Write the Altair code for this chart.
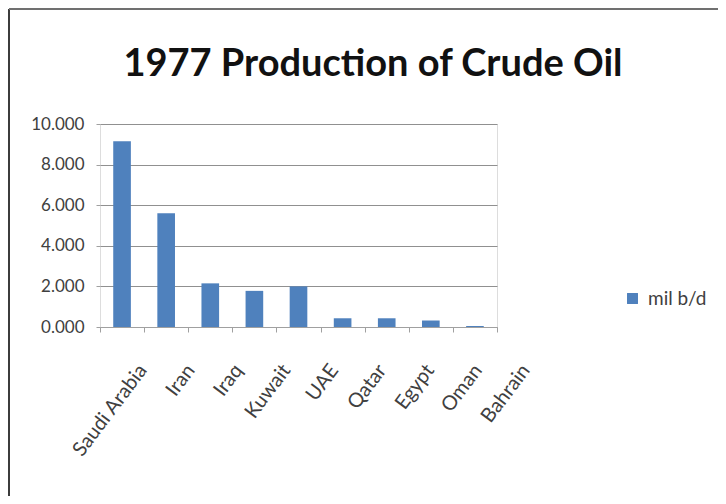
import altair as alt
import pandas as pd

countries = ["Saudi Arabia", "Iran", "Iraq", "Kuwait", "UAE", "Qatar", "Egypt", "Oman", "Bahrain"]
production = [9.15, 5.60, 2.15, 1.78, 2.00, 0.43, 0.43, 0.32, 0.05]
series_name = "mil b/d"
title_text = "1977 Production of Crude Oil"
y_ticks = [0, 2, 4, 6, 8, 10]

df = pd.DataFrame({"country": countries, "value": production, "series": [series_name] * len(countries)})
one = pd.DataFrame({"t": [title_text]})

FONT = "Lato"
W, H = 397, 203
PL, PT = 92, 116

bars = alt.Chart(df).mark_bar(width=alt.RelativeBandSize(0.4), color="#4F81BD").encode(
    x=alt.X("country:N", sort=countries, title=None,
            scale=alt.Scale(paddingInner=0, paddingOuter=0),
            axis=alt.Axis(labels=False, tickBand="extent",
                          tickSize=5, tickColor="#a0a0a0", domainColor="#a0a0a0",
                          grid=False)),
    y=alt.Y("value:Q", title=None,
            scale=alt.Scale(domain=[0, 10], nice=False),
            axis=alt.Axis(values=y_ticks, format=".3f", domain=False,
                          tickSize=4, tickColor="#a0a0a0", gridColor="#909090",
                          labelFont=FONT, labelFontSize=17, labelColor="#404040",
                          labelPadding=12)),
    fill=alt.Fill("series:N", scale=alt.Scale(range=["#4F81BD"]),
                  legend=alt.Legend(title=None, orient="none", legendX=523, legendY=165,
                                    symbolType="square", symbolSize=120, symbolStrokeWidth=0,
                                    labelFont=FONT, labelFontSize=19, labelColor="#404040",
                                    labelOffset=6)),
)

# rotated category labels (spread as in the reference)
xlabels = alt.Chart(df).mark_text(font=FONT, fontSize=20, color="#404040", angle=307,
                                  align="right", baseline="top").encode(
    x=alt.X("country:N", sort=countries, axis=None,
            scale=alt.Scale(type="point", range=[35, 418], padding=0)),
    y=alt.value(237),
    text="country:N",
)

title = alt.Chart(one).mark_text(font=FONT, fontSize=38, fontWeight="bold", color="#111111",
                                 align="center", baseline="alphabetic").encode(
    text="t:N", x=alt.value(273), y=alt.value(-48))

border_left = alt.Chart(one).mark_rule(color="#3c3c3c", strokeWidth=2).encode(
    x=alt.value(-91), y=alt.value(-115), y2=alt.value(378))
border_top = alt.Chart(one).mark_rule(color="#707070", strokeWidth=2).encode(
    x=alt.value(-91), x2=alt.value(700), y=alt.value(-115))
border_bottom = alt.Chart(one).mark_rule(color="#b8b8b8", strokeWidth=2).encode(
    x=alt.value(-91), x2=alt.value(700), y=alt.value(378))

chart = alt.layer(bars, xlabels, title, border_left, border_top, border_bottom).resolve_scale(
    x="independent"
).properties(
    width=W, height=H,
    autosize=alt.AutoSizeParams(type="none"),
    padding={"left": PL, "top": PT, "right": 710 - PL - W, "bottom": 488 - PT - H},
).configure_view(stroke=None).configure(background="white")

chart.save("out.html", embed_options={"renderer": "svg", "actions": False})
